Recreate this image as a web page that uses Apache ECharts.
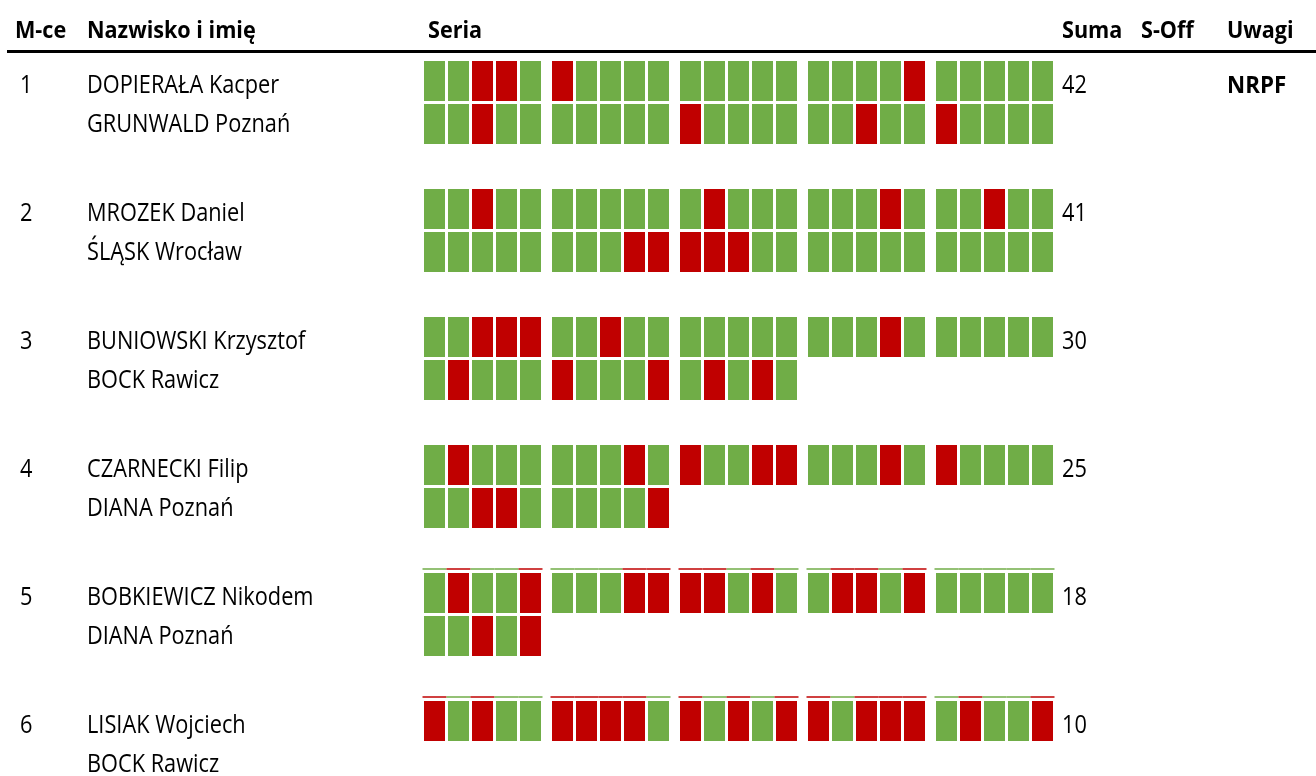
<!DOCTYPE html>
<html><head><meta charset="utf-8">
<script src="https://cdn.jsdelivr.net/npm/echarts@6/dist/echarts.min.js"></script>
<style>html,body{margin:0;padding:0;background:#fff}#c{width:1316px;height:776px}</style>
</head><body><div id="c"></div>
<script>
// ---------- data ----------
const headers = ['M-ce', 'Nazwisko i imię', 'Seria', 'Suma', 'S-Off', 'Uwagi'];
const ranks = ['1', '2', '3', '4', '5', '6'];
const names = ['DOPIERAŁA Kacper', 'MROZEK Daniel', 'BUNIOWSKI Krzysztof', 'CZARNECKI Filip', 'BOBKIEWICZ Nikodem', 'LISIAK Wojciech'];
const clubs = ['GRUNWALD Poznań', 'ŚLĄSK Wrocław', 'BOCK Rawicz', 'DIANA Poznań', 'DIANA Poznań', 'BOCK Rawicz'];
const sums = [42, 41, 30, 25, 18, 10];
const shootOff = ['', '', '', '', '', ''];
const notes = ['NRPF', '', '', '', '', ''];
// each string = one series of 5 targets, 1 = hit, 0 = miss
const seriesP1 = ['11001', '01111', '11111', '11110', '11111', '11011', '11111', '01111', '11011', '01111'];
const seriesP2 = ['11011', '11111', '10111', '11101', '11011', '11111', '11100', '00011', '11111', '11111'];
const seriesP3 = ['11000', '11011', '11111', '11101', '11111', '10111', '01110', '10101'];
const seriesP4 = ['10111', '11101', '01100', '11101', '01111', '11001', '11110'];
const seriesP5 = ['10110', '11100', '00101', '10010', '11111', '11010'];
const seriesP6 = ['01011', '00001', '01010', '01000', '10110'];
const results = [seriesP1, seriesP2, seriesP3, seriesP4, seriesP5, seriesP6];
const markedRows = [4, 5]; // rows whose first line carries the thin colour strip

// ---------- layout / style ----------
const FONT = "'Open Sans', 'Noto Sans', sans-serif";
const GREEN = '#70AD47', RED = '#C00000';
const L = {
  seriesX0: 424, seriesPitch: 128, shotPitch: 24, boxW: 21,
  rowY0: 61, rowPitch: 128, linePitch: 43, boxH: 40,
  perLine: 5,
  colX: [15, 87, 428, 1062, 1141, 1227], rankX: 20,
  headerY: 31.5, line1Dy: 25, line2Dy: 63.5
};
const TXT = {
  head: {size: 24, weight: 'bold', sx: 0.9},
  body: {size: 25, weight: 'normal', sx: 0.87},
  note: {size: 24, weight: 'bold', sx: 0.93}
};

const boxData = [];
results.forEach((row, r) => {
  row.forEach((ser, s) => {
    const line = Math.floor(s / L.perLine), sIn = s % L.perLine;
    ser.split('').forEach((c, k) => {
      boxData.push([L.seriesX0 + sIn * L.seriesPitch + k * L.shotPitch,
                    L.rowY0 + r * L.rowPitch + line * L.linePitch,
                    +c, r, line]);
    });
  });
});

const textData = [];
headers.forEach((h, i) => textData.push([L.colX[i], L.headerY, h, 'head']));
ranks.forEach((t, r) => {
  const y1 = L.rowY0 + r * L.rowPitch + L.line1Dy;
  const y2 = L.rowY0 + r * L.rowPitch + L.line2Dy;
  textData.push([L.rankX, y1, t, 'body']);
  textData.push([L.colX[1], y1, names[r], 'body']);
  textData.push([L.colX[1], y2, clubs[r], 'body']);
  textData.push([L.colX[3], y1, String(sums[r]), 'body']);
  if (shootOff[r]) textData.push([L.colX[4], y1, shootOff[r], 'body']);
  if (notes[r]) textData.push([L.colX[5], y1, notes[r], 'note']);
});

const chart = echarts.init(document.getElementById('c'), null, {renderer: 'canvas'});
chart.setOption({
  animation: false,
  backgroundColor: '#fff',
  grid: {left: 0, right: 0, top: 0, bottom: 0},
  xAxis: {type: 'value', min: 0, max: 1316, show: false},
  yAxis: {type: 'value', min: 0, max: 776, inverse: true, show: false},
  series: [
    {
      type: 'custom', clip: false,
      data: boxData,
      renderItem: (params, api) => {
        const p = api.coord([api.value(0), api.value(1)]);
        const q = api.coord([api.value(0) + L.boxW, api.value(1) + L.boxH]);
        const col = api.value(2) ? GREEN : RED;
        const children = [{
          type: 'rect',
          shape: {x: p[0], y: p[1], width: q[0] - p[0], height: q[1] - p[1]},
          style: {fill: col}
        }];
        if (markedRows.includes(api.value(3)) && api.value(4) === 0) {
          const a = api.coord([api.value(0) - 1.5, api.value(1) - 4]);
          const b = api.coord([api.value(0) + L.boxW + 1.5, api.value(1) - 4]);
          children.push({type: 'line', shape: {x1: a[0], y1: a[1], x2: b[0], y2: b[1]},
                         style: {stroke: col, lineWidth: 1.5}});
        }
        return {type: 'group', children};
      }
    },
    {
      type: 'custom', clip: false,
      data: textData,
      renderItem: (params, api) => {
        const d = textData[params.dataIndex];
        const t = TXT[d[3]];
        const p = api.coord([d[0], d[1]]);
        return {
          type: 'text', x: p[0], y: p[1], scaleX: t.sx,
          style: {text: d[2], fill: '#000', font: t.weight + ' ' + t.size + 'px ' + FONT,
                  textAlign: 'left', textVerticalAlign: 'middle'}
        };
      }
    },
    {
      type: 'line', data: [[7, 51.5], [1316, 51.5]], symbol: 'none', silent: true,
      lineStyle: {color: '#000', width: 3}
    }
  ]
});
</script>
</body></html>
